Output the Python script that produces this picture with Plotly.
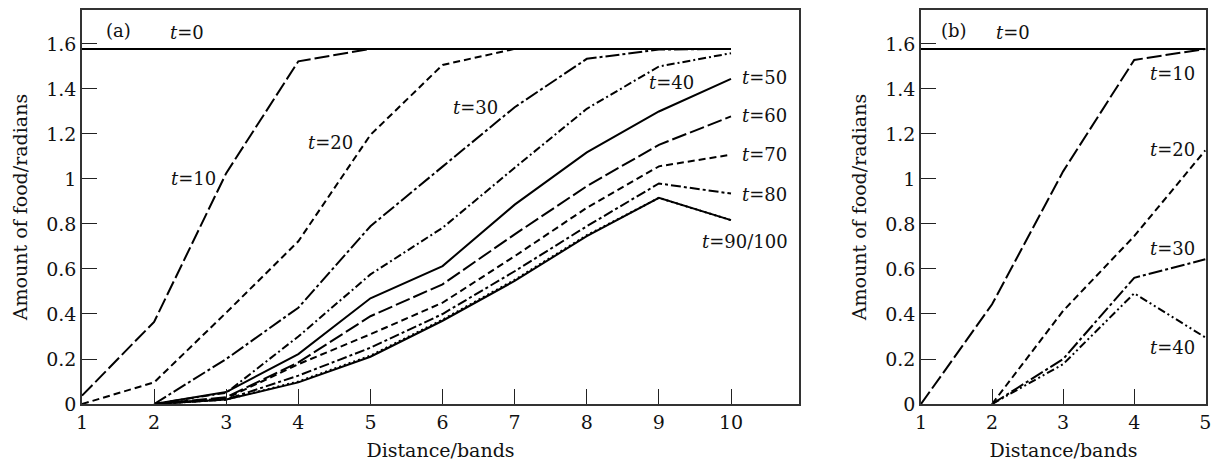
import plotly.graph_objects as go

# ---------------- data ----------------
dist_a = [1, 2, 3, 4, 5, 6, 7, 8, 9, 10]
dist_a2 = [2, 3, 4, 5, 6, 7, 8, 9, 10]
a_t0 = [1.578] * 10
a_t10 = [0.037, 0.365, 1.026, 1.523, 1.578, 1.578, 1.578, 1.578, 1.578, 1.578]
a_t20 = [0.0, 0.096, 0.406, 0.723, 1.196, 1.507, 1.578, 1.578, 1.578, 1.578]
a_t30 = [0.0, 0.20, 0.428, 0.79, 1.055, 1.319, 1.534, 1.575, 1.578]
a_t40 = [0.0, 0.05, 0.30, 0.576, 0.783, 1.05, 1.312, 1.50, 1.559]
a_t50 = [0.0, 0.053, 0.222, 0.47, 0.613, 0.886, 1.118, 1.30, 1.445]
a_t60 = [0.0, 0.03, 0.185, 0.39, 0.532, 0.754, 0.968, 1.152, 1.278]
a_t70 = [0.0, 0.025, 0.177, 0.31, 0.45, 0.657, 0.872, 1.056, 1.108]
a_t80 = [0.0, 0.02, 0.126, 0.25, 0.40, 0.59, 0.79, 0.98, 0.935]
a_t90 = [0.0, 0.02, 0.096, 0.21, 0.37, 0.547, 0.746, 0.916, 0.817]
a_t100 = [0.0, 0.02, 0.10, 0.215, 0.375, 0.552, 0.75, 0.916, 0.817]

dist_b = [1, 2, 3, 4, 5]
dist_b2 = [2, 3, 4, 5]
b_t0 = [1.578] * 5
b_t10 = [0.0, 0.443, 1.034, 1.529, 1.578]
b_t20 = [0.0, 0.414, 0.746, 1.127]
b_t30 = [0.0, 0.20, 0.561, 0.643]
b_t40 = [0.0, 0.177, 0.492, 0.296]

y_ticks = [0, 0.2, 0.4, 0.6, 0.8, 1.0, 1.2, 1.4, 1.6]
y_tick_text = ["0", "0.2", "0.4", "0.6", "0.8", "1", "1.2", "1.4", "1.6"]

FONT = "DejaVu Serif"
LONG = "15px,4px"
SHORT = "7px,4px"
LDD = "14px,3px,3px,3px"
DD = "8px,3px,2px,3px"
DDD = "8px,3px,2px,3px,2px,3px"

fig = go.Figure()


def add(x, y, dash, ax, w=2):
    fig.add_trace(go.Scatter(
        x=x, y=y, mode="lines", xaxis="x" + ax, yaxis="y" + ax,
        line=dict(color="black", width=w, dash=dash), showlegend=False,
        hoverinfo="skip", cliponaxis=False))


# panel (a)
add(dist_a, a_t0, "solid", "")
add(dist_a, a_t10, LONG, "")
add(dist_a, a_t20, SHORT, "")
add(dist_a2, a_t30, LDD, "")
add(dist_a2, a_t40, DD, "")
add(dist_a2, a_t50, "solid", "")
add(dist_a2, a_t60, LONG, "")
add(dist_a2, a_t70, SHORT, "")
add(dist_a2, a_t80, "10px,3px,3px,3px", "")
add(dist_a2, a_t100, "2px,3px", "")
add(dist_a2, a_t90, "solid", "")

# panel (b)
add(dist_b, b_t0, "solid", "2")
add(dist_b, b_t10, LONG, "2")
add(dist_b2, b_t20, SHORT, "2")
add(dist_b2, b_t30, LDD, "2")
add(dist_b2, b_t40, DDD, "2")

TF = dict(family=FONT, size=19, color="#111")
axis_common = dict(
    showline=True, mirror=True, linecolor="#333", linewidth=1.5,
    ticks="inside", ticklen=15, tickwidth=1.2, tickcolor="#222",
    showgrid=False, zeroline=False, automargin=False,
    tickfont=TF, ticklabeloverflow="allow",
)

fig.update_layout(
    width=1214, height=466,
    margin=dict(l=0, r=0, t=0, b=0),
    paper_bgcolor="white", plot_bgcolor="white",
    xaxis=dict(domain=[82 / 1214, 799 / 1214], range=[1, 10.943],
               tickvals=dist_a, anchor="y",
               title=dict(text="Distance/bands", standoff=12, font=TF),
               **axis_common),
    yaxis=dict(domain=[1 - 404 / 466, 1 - 10 / 466], range=[0, 1.751],
               tickvals=y_ticks, ticktext=y_tick_text, anchor="x",
               title=dict(text="Amount of food/radians", standoff=14, font=TF),
               **axis_common),
    xaxis2=dict(domain=[921 / 1214, 1206 / 1214], range=[1, 5.01],
                tickvals=dist_b, anchor="y2",
                title=dict(text="Distance/bands", standoff=12, font=TF),
                **axis_common),
    yaxis2=dict(domain=[1 - 404 / 466, 1 - 10 / 466], range=[0, 1.751],
                tickvals=y_ticks, ticktext=y_tick_text, anchor="x2",
                title=dict(text="Amount of food/radians", standoff=14, font=TF),
                **axis_common),
)

labels_a = [
    ("(a)", 1.50, 1.662), ("<i>t</i>=0", 2.456, 1.649),
    ("<i>t</i>=10", 2.54, 1.004), ("<i>t</i>=20", 4.44, 1.16),
    ("<i>t</i>=30", 6.45, 1.316), ("<i>t</i>=40", 9.17, 1.427),
    ("<i>t</i>=50", 10.47, 1.449), ("<i>t</i>=60", 10.47, 1.284),
    ("<i>t</i>=70", 10.47, 1.107), ("<i>t</i>=80", 10.47, 0.929),
    ("<i>t</i>=90/100", 10.19, 0.72),
]
labels_b = [
    ("(b)", 1.47, 1.662), ("<i>t</i>=0", 2.30, 1.649),
    ("<i>t</i>=10", 4.54, 1.471), ("<i>t</i>=20", 4.54, 1.129),
    ("<i>t</i>=30", 4.54, 0.693), ("<i>t</i>=40", 4.54, 0.249),
]
LF = dict(family=FONT, size=18, color="#111")
for txt, x, y in labels_a:
    fig.add_annotation(x=x, y=y, xref="x", yref="y", text=txt,
                       showarrow=False, font=LF)
for txt, x, y in labels_b:
    fig.add_annotation(x=x, y=y, xref="x2", yref="y2", text=txt,
                       showarrow=False, font=LF)

fig.write_html("out.html",
               config={"displayModeBar": False},
               post_script="document.body.style.margin='0px';"
                           "document.body.style.padding='0px';")
